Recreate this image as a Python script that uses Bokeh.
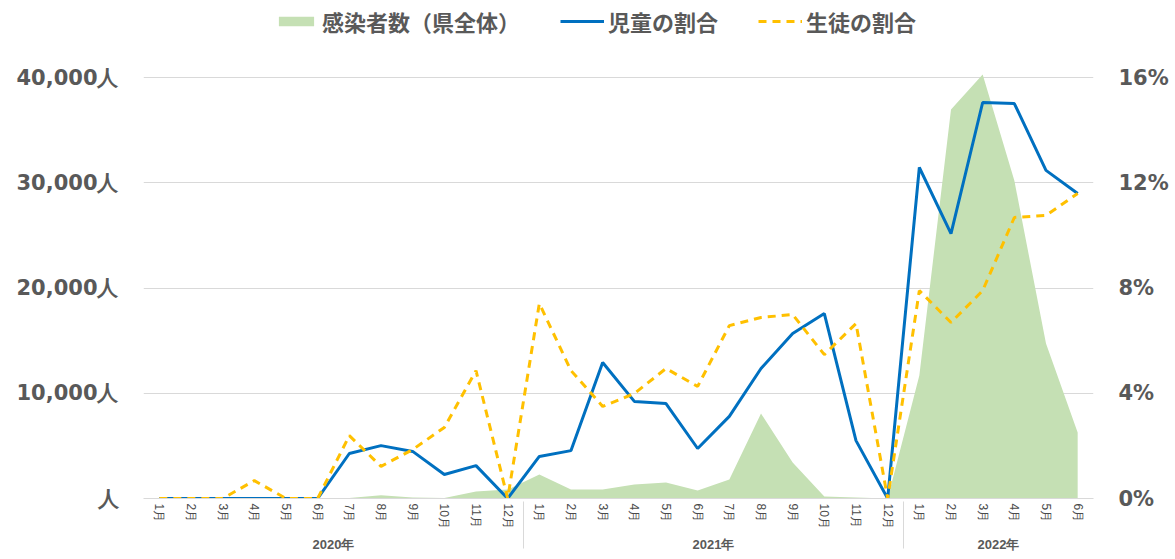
from bokeh.plotting import figure
from bokeh.models import FactorRange, Range1d, LinearAxis, FixedTicker, Legend, LegendItem
from bokeh.embed import file_html
from bokeh.resources import INLINE

years = ["2020年"] * 12 + ["2021年"] * 12 + ["2022年"] * 6
months = ["1月", "2月", "3月", "4月", "5月", "6月", "7月", "8月", "9月", "10月", "11月", "12月",
          "1月", "2月", "3月", "4月", "5月", "6月", "7月", "8月", "9月", "10月", "11月", "12月",
          "1月", "2月", "3月", "4月", "5月", "6月"]

# 感染者数（県全体）
infected = [0, 0, 0, 0, 0, 0, 50, 300, 100, 50, 670, 850,
            2280, 850, 860, 1330, 1520, 760, 1800, 8070, 3420, 200, 100, 0,
            11690, 36960, 40290, 30210, 14730, 6270]
# 児童の割合 (%)
child_pct = [0, 0, 0, 0, 0, 0, 1.71, 2.01, 1.79, 0.91, 1.25, 0,
             1.60, 1.82, 5.17, 3.69, 3.61, 1.90, 3.12, 4.94, 6.27, 7.03, 2.20, 0,
             12.58, 10.07, 15.05, 15.01, 12.47, 11.59]
# 生徒の割合 (%)
student_pct = [0, 0, 0, 0.68, 0, 0, 2.39, 1.22, 1.86, 2.70, 4.86, 0,
               7.41, 4.86, 3.50, 3.99, 4.94, 4.26, 6.57, 6.88, 6.99, 5.47, 6.65, 0,
               7.90, 6.69, 7.90, 10.68, 10.76, 11.59]

count_ticks = [0, 10000, 20000, 30000, 40000]
count_labels = ["人", "10,000人", "20,000人", "30,000人", "40,000人"]
pct_ticks = [0, 4, 8, 12, 16]
pct_labels = ["0%", "4%", "8%", "12%", "16%"]

GRAY = "#595959"
GRID = "#d9d9d9"
COUNT_MAX = 47316
PCT_MAX = COUNT_MAX / 2500.0

x = list(zip(years, months))

p = figure(width=1175, height=559,
           x_range=FactorRange(*x, factor_padding=0, group_padding=0, range_padding=0),
           y_range=Range1d(0, COUNT_MAX),
           output_backend="svg", toolbar_location=None,
           min_border_left=143, min_border_right=82, min_border_top=0, min_border_bottom=61)
p.extra_y_ranges = {"pct": Range1d(0, PCT_MAX)}
p.outline_line_color = None
p.background_fill_color = "white"

p.xgrid.grid_line_color = None
p.ygrid.ticker = FixedTicker(ticks=count_ticks)
p.ygrid.grid_line_color = GRID
p.ygrid.grid_line_width = 1

yax = p.yaxis[0]
yax.ticker = FixedTicker(ticks=count_ticks)
yax.major_label_overrides = {t: l for t, l in zip(count_ticks, count_labels)}
yax.axis_line_color = None
yax.major_tick_line_color = None
yax.minor_tick_line_color = None
yax.major_tick_out = 0
yax.major_tick_in = 0
yax.major_label_standoff = 25
yax.major_label_text_font = "DejaVu Sans"
yax.major_label_text_font_style = "bold"
yax.major_label_text_font_size = "21px"
yax.major_label_text_color = GRAY

rax = LinearAxis(y_range_name="pct", ticker=FixedTicker(ticks=pct_ticks))
rax.major_label_overrides = {t: l for t, l in zip(pct_ticks, pct_labels)}
rax.axis_line_color = None
rax.major_tick_line_color = None
rax.minor_tick_line_color = None
rax.major_tick_out = 0
rax.major_tick_in = 0
rax.major_label_standoff = 25
rax.major_label_text_font = "DejaVu Sans"
rax.major_label_text_font_style = "bold"
rax.major_label_text_font_size = "21px"
rax.major_label_text_color = GRAY
p.add_layout(rax, "right")

xax = p.xaxis[0]
xax.axis_line_color = GRID
xax.major_tick_line_color = None
xax.minor_tick_line_color = None
xax.major_tick_out = 0
xax.major_tick_in = 0
xax.major_label_orientation = "vertical"
xax.major_label_text_font_size = "12px"
xax.major_label_text_color = "#4a4a4a"
xax.major_label_standoff = 5
xax.group_label_orientation = "horizontal"
xax.group_text_font_size = "13px"
xax.group_text_font_style = "bold"
xax.group_text_color = GRAY
xax.separator_line_color = GRID
xax.separator_line_width = 1

r_area = p.varea(x=x, y1=[0] * len(x), y2=infected, fill_color="#c5e0b4")
r_child = p.line(x=x, y=child_pct, y_range_name="pct", line_color="#0070c0", line_width=3)
r_student = p.line(x=x, y=student_pct, y_range_name="pct", line_color="#ffc000",
                   line_width=3, line_dash="8 6")

legend = Legend(items=[LegendItem(label="感染者数（県全体）", renderers=[r_area]),
                       LegendItem(label="児童の割合", renderers=[r_child]),
                       LegendItem(label="生徒の割合", renderers=[r_student])],
                orientation="horizontal", location=(131, 461),
                border_line_color=None, background_fill_alpha=0,
                label_text_font="Noto Sans CJK JP", label_text_font_style="bold",
                label_text_font_size="22px", label_text_color=GRAY,
                glyph_width=44, glyph_height=12, spacing=40, label_standoff=4,
                padding=4, margin=0)
p.add_layout(legend)

open("out.html", "w").write(file_html(p, INLINE))
